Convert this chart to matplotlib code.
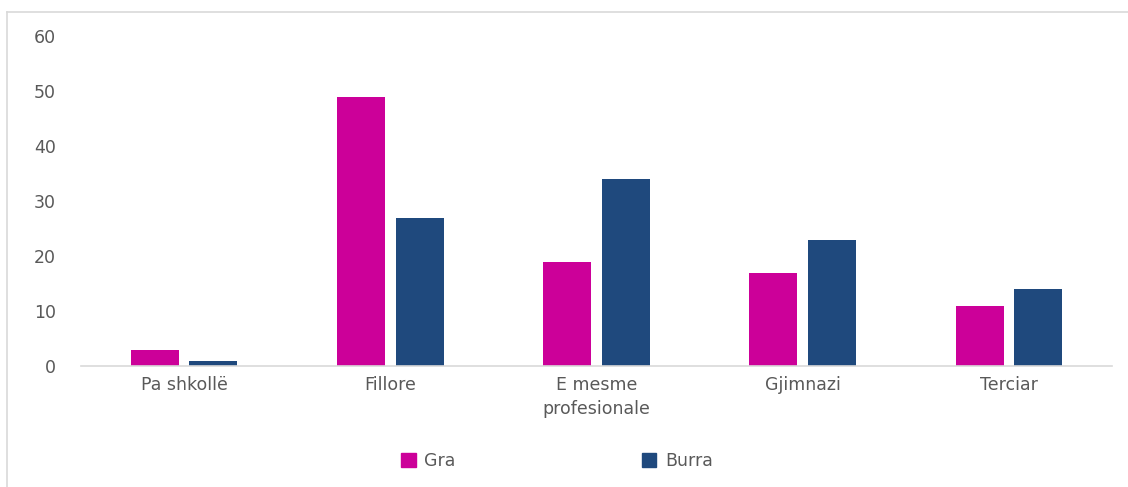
import matplotlib
matplotlib.use("Agg")
import matplotlib.pyplot as plt
from matplotlib.lines import Line2D
from matplotlib.patches import Patch
import numpy as np

categories = ["Pa shkollë", "Fillore", "E mesme\nprofesionale", "Gjimnazi", "Terciar"]
gra = [3, 49, 19, 17, 11]
burra = [1, 27, 34, 23, 14]
series_names = ["Gra", "Burra"]
yticks = [0, 10, 20, 30, 40, 50, 60]

c_gra = "#CC0099"
c_burra = "#1F497D"
txt = "#595959"

plt.rcParams['font.family'] = ['DejaVu Sans']

fig = plt.figure(figsize=(11.28, 4.87), dpi=100)
ax = fig.add_axes([81/1128, 1-366/487, (1112-81)/1128, (366-36)/487])

x = np.arange(len(categories))
w = 0.233
off = 0.142
ax.bar(x - off, gra, width=w, color=c_gra, label=series_names[0])
ax.bar(x + off, burra, width=w, color=c_burra, label=series_names[1])

ax.set_xlim(-0.5, len(categories) - 0.5)
ax.set_ylim(0, 60)
ax.set_yticks(yticks)
ax.set_xticks(x)
ax.set_xticklabels(categories, fontsize=12.5, color=txt, linespacing=1.45)
ax.tick_params(axis='y', length=0, pad=18, labelsize=12.5, labelcolor=txt)
ax.tick_params(axis='x', length=0, pad=7)
for s in ["top", "right", "left"]:
    ax.spines[s].set_visible(False)
ax.spines["bottom"].set_color("#D9D9D9")
ax.spines["bottom"].set_linewidth(1.2)

# legend
handles = [Patch(color=c_gra), Patch(color=c_burra)]
leg = fig.legend(handles, series_names, loc="center", bbox_to_anchor=(557/1128, 1-461/487),
                 ncol=2, frameon=False, fontsize=12.5, handlelength=0.85, handleheight=0.85,
                 columnspacing=10.7, handletextpad=0.5)
for t in leg.get_texts():
    t.set_color(txt)

# chart border
fig.add_artist(Line2D([7/1128, 7/1128], [0, 1-12/487], color="#D9D9D9", lw=1.2, transform=fig.transFigure))
fig.add_artist(Line2D([7/1128, 1], [1-12/487, 1-12/487], color="#D9D9D9", lw=1.2, transform=fig.transFigure))

fig.savefig("out.png", dpi=100)
